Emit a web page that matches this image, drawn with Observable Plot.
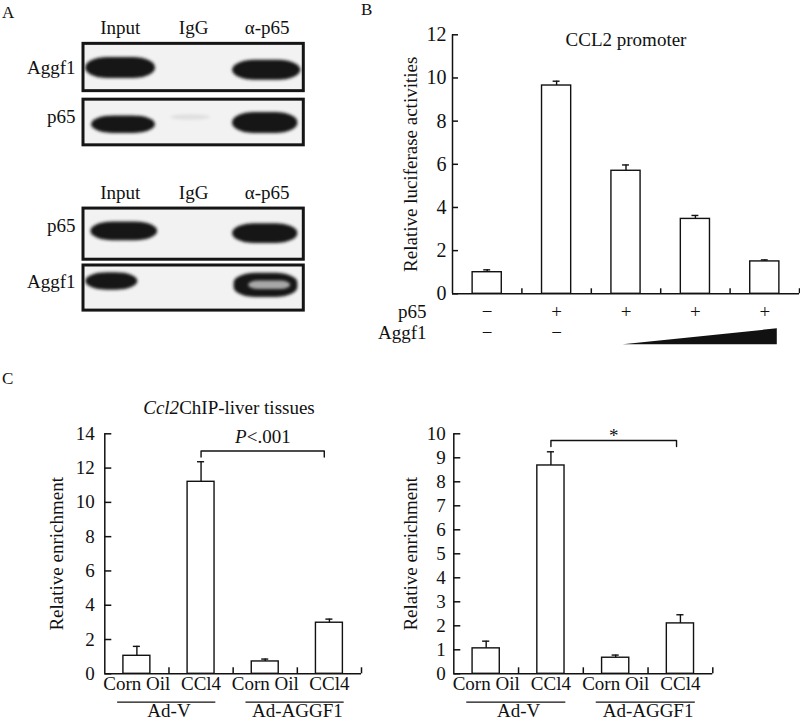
<!DOCTYPE html>
<html><head><meta charset="utf-8">
<script src="https://cdn.jsdelivr.net/npm/d3@7"></script>
<script src="https://cdn.jsdelivr.net/npm/@observablehq/plot@0.6"></script>
<style>
html,body{margin:0;padding:0;background:#fff;overflow:hidden;}
#fig{position:relative;width:800px;height:722px;font-family:'Liberation Serif','Times New Roman',serif;color:#111;background:#fff;}
.panel{position:absolute;}
.panel svg{display:block;font-family:'Liberation Serif','Times New Roman',serif !important;}
.panel svg text{font-family:'Liberation Serif','Times New Roman',serif !important;}
.plab{position:absolute;font-size:17px;line-height:1;}
.ctitle{position:absolute;font-size:19px;line-height:22px;text-align:center;white-space:nowrap;}
</style></head><body>
<div id="fig">
  <div id="pa" class="panel" style="left:0;top:0;width:320px;height:320px"></div>
  <div id="pb" class="panel" style="left:360px;top:0;width:440px;height:360px"></div>
  <div id="pc1" class="panel" style="left:0;top:360px;width:400px;height:362px"></div>
  <div id="pc2" class="panel" style="left:400px;top:360px;width:400px;height:362px"></div>
  <div class="plab" style="left:2px;top:4px">A</div>
  <div class="plab" style="left:361px;top:1px">B</div>
  <div class="plab" style="left:2px;top:370px">C</div>
  <div class="ctitle" style="left:129px;width:200px;top:397px"><i>Ccl2</i>ChIP-liver tissues</div>
</div>
<script>
// ---------------- DATA ----------------
// Panel A: co-immunoprecipitation blots
const lanes = ["Input", "IgG", "α-p65"];
const blot1Proteins = ["Aggf1", "p65"];
const blot2Proteins = ["p65", "Aggf1"];
const blot1Signal = [[1, 0, 1], [1, 0.08, 1]];
const blot2Signal = [[1, 0, 1], [1, 0, 1]];

// Panel B: CCL2 promoter luciferase
const bTitle = "CCL2 promoter";
const bYLabel = "Relative luciferase activities";
const bValues = [1.0, 9.65, 5.7, 3.47, 1.5];
const bErrors = [0.11, 0.2, 0.27, 0.16, 0.07];
const bP65 = ["−", "+", "+", "+", "+"];
const bAggf1 = ["−", "−", "", "", ""];
const bRowLabels = ["p65", "Aggf1"];
const bYTicks = [0, 2, 4, 6, 8, 10, 12];

// Panel C: ChIP liver tissues
const cYLabel = "Relative enrichment";
const cCats = ["Corn Oil", "CCl4", "Corn Oil", "CCl4"];
const cGroups = ["Ad-V", "Ad-AGGF1"];
const c1Values = [1.05, 11.2, 0.72, 2.98];
const c1Errors = [0.55, 1.17, 0.14, 0.21];
const c1Ticks = [0, 2, 4, 6, 8, 10, 12, 14];
const c1Compare = {from: 1, to: 3, italic: "P", text: "<.001"};
const c2Values = [1.06, 8.68, 0.67, 2.10];
const c2Errors = [0.30, 0.57, 0.11, 0.36];
const c2Ticks = [0, 1, 2, 3, 4, 5, 6, 7, 8, 9, 10];
const c2Compare = {from: 1, to: 3, italic: "", text: "*"};

// ---------------- STYLE ----------------
const FONT = "'Liberation Serif','Times New Roman',serif";
const INK = "#111";
const baseStyle = {fontFamily: FONT, fontSize: "19px", background: "transparent", overflow: "visible", color: INK};
const T = (o) => Object.assign({fontFamily: FONT, fontSize: 19}, o);

// ---------------- PANEL A ----------------
(function () {
  const rowStyle = [
    {h: 0.86, dy: 0.0, labelDy: 0},
    {h: 0.83, dy: 0.0, labelDy: -5.5},
    {h: 0.93, dy: 0.03, labelDy: -7},
    {h: 0.82, dy: 0.01, labelDy: -6}
  ];
  const bandShape = [
    [{l: -0.47, r: 0.48, c: 0.01, t: 0.19}, {l: -0.2, r: 0.2, c: 0, t: 0.05}, {l: -0.47, r: 0.46, c: 0.05, t: 0.18}],
    [{l: -0.39, r: 0.48, c: 0.04, t: 0.16}, {l: -0.31, r: 0.23, c: -0.09, t: 0.05}, {l: -0.47, r: 0.42, c: 0.01, t: 0.19}],
    [{l: -0.40, r: 0.51, c: -0.02, t: 0.17}, {l: -0.2, r: 0.2, c: 0, t: 0.05}, {l: -0.47, r: 0.42, c: 0.02, t: 0.18}],
    [{l: -0.47, r: 0.24, c: -0.11, t: 0.16}, {l: -0.2, r: 0.2, c: 0, t: 0.05}, {l: -0.45, r: 0.42, c: -0.04, t: 0.22, ring: true}]
  ];
  const rows = [];
  [[blot1Proteins, blot1Signal], [blot2Proteins, blot2Signal]].forEach(([prots, sig], b) =>
    prots.forEach((p, r) => rows.push({blot: b, row: r, slot: b * 3 + r, protein: p, signal: sig[r]})));
  rows.forEach((d, k) => Object.assign(d, rowStyle[k]));
  const bands = [], rings = [];
  rows.forEach((d, k) => d.signal.forEach((s, lane) => {
    if (s <= 0) return;
    const sh = bandShape[k][lane];
    const yc = d.slot + sh.c;
    bands.push({x1: lane + sh.l, x2: lane + sh.r, y1: yc - sh.t, y2: yc + sh.t, signal: s});
    if (sh.ring) rings.push({x1: lane + sh.l + 0.2, x2: lane + sh.r - 0.1, y1: yc - sh.t * 0.35, y2: yc + sh.t * 0.35});
  }));
  const headers = [];
  [0, 1].forEach(b => lanes.forEach((name, lane) => headers.push({lane, slot: b * 3, name})));

  const svg = Plot.plot({
    style: baseStyle, width: 320, height: 320,
    marginLeft: 83, marginRight: 16.7, marginTop: 39.5, marginBottom: 5.5,
    x: {domain: [-0.5, lanes.length - 0.5], axis: null},
    y: {domain: [4.5, -0.5], axis: null},
    marks: [
      Plot.rect(rows, {x1: () => -0.5, x2: () => lanes.length - 0.5, y1: d => d.slot + d.dy - d.h / 2, y2: d => d.slot + d.dy + d.h / 2,
        fill: "#f2f2f2", stroke: "#151515", strokeWidth: 3}),
      Plot.rect(bands, {x1: "x1", x2: "x2", y1: "y1", y2: "y2", fill: "#161616", fillOpacity: "signal", rx: 22, ry: 10}),
      Plot.rect(rings, {x1: "x1", x2: "x2", y1: "y1", y2: "y2", fill: "#a8a8a8", rx: 10, ry: 4}),
      Plot.text(headers, T({x: "lane", y: "slot", dy: -40, text: "name"})),
      Plot.text(rows, T({y: d => d.slot + d.labelDy / 55, frameAnchor: "left", dx: -8, textAnchor: "end", text: "protein"}))
    ]
  });
  const ns = "http://www.w3.org/2000/svg";
  const defs = document.createElementNS(ns, "defs");
  const f = document.createElementNS(ns, "filter");
  f.setAttribute("id", "blotblur");
  f.setAttribute("x", "-30%"); f.setAttribute("y", "-30%"); f.setAttribute("width", "160%"); f.setAttribute("height", "160%");
  const gb = document.createElementNS(ns, "feGaussianBlur");
  gb.setAttribute("stdDeviation", "1.8");
  f.appendChild(gb); defs.appendChild(f); svg.insertBefore(defs, svg.firstChild);
  const gs = svg.querySelectorAll('g[aria-label="rect"]');
  if (gs[1]) gs[1].setAttribute("filter", "url(#blotblur)");
  if (gs[2]) gs[2].setAttribute("filter", "url(#blotblur)");
  document.getElementById("pa").appendChild(svg);
})();

// ---------------- PANEL B ----------------
(function () {
  const W = 440, H = 360, ml = 92, mr = 1, mt = 34.3, mb = 66.7;
  const frameW = W - ml - mr, frameH = H - mt - mb;
  const ymax = bYTicks[bYTicks.length - 1];
  const pxPerUnit = frameH / ymax;
  const data = bValues.map((v, i) => ({i, v, e: bErrors[i], p65: bP65[i], aggf1: bAggf1[i]}));
  const bounds = data.map(d => d.i + 0.5);
  const ramp = [{x: 1.96, level: 0}, {x: 4.18, level: 1}];
  const rampH = 16 / pxPerUnit;
  const svg = Plot.plot({
    style: baseStyle, width: W, height: H,
    marginLeft: ml, marginRight: mr, marginTop: mt, marginBottom: mb,
    x: {domain: [-0.5, data.length - 0.5], axis: null},
    y: {domain: [0, ymax], axis: null},
    marks: [
      Plot.rect(data, {x1: d => d.i - 0.21, x2: d => d.i + 0.21, y1: () => 0, y2: "v", fill: "white", stroke: INK, strokeWidth: 1.4}),
      Plot.ruleX(data, {x: "i", y1: "v", y2: d => d.v + d.e, stroke: INK, strokeWidth: 1.4}),
      Plot.ruleY(data, {y: d => d.v + d.e, x1: d => d.i - 0.05, x2: d => d.i + 0.05, stroke: INK, strokeWidth: 1.4}),
      Plot.ruleX([-0.5], {stroke: INK, strokeWidth: 1.5}),
      Plot.ruleY([0], {stroke: INK, strokeWidth: 1.5}),
      Plot.tickY(bYTicks, {y: d => d, insetRight: frameW - 6, stroke: INK, strokeWidth: 1.5}),
      Plot.tickX(bounds, {x: d => d, insetTop: frameH - 5, stroke: INK, strokeWidth: 1.5}),
      Plot.text(bYTicks, T({y: d => d, frameAnchor: "left", dx: -6, textAnchor: "end", text: d => String(d), fontSize: 20})),
      Plot.text([bYLabel], T({frameAnchor: "left", dx: -42, rotate: -90, textAnchor: "middle", text: d => d})),
      Plot.text([bTitle], T({frameAnchor: "top", dy: -2, textAnchor: "middle", text: d => d})),
      Plot.text(data, T({x: "i", frameAnchor: "bottom", dy: 24, textAnchor: "middle", text: "p65"})),
      Plot.text(data, T({x: "i", frameAnchor: "bottom", dy: 45, textAnchor: "middle", text: "aggf1"})),
      Plot.text([bRowLabels[0]], T({frameAnchor: "bottom-left", dx: -26, dy: 24, textAnchor: "end", text: d => d})),
      Plot.text([bRowLabels[1]], T({frameAnchor: "bottom-left", dx: -26, dy: 45, textAnchor: "end", text: d => d})),
      Plot.area(ramp, {x1: "x", y1: () => 0, y2: d => d.level * rampH, dy: 51, fill: INK})
    ]
  });
  document.getElementById("pb").appendChild(svg);
})();

// ---------------- PANEL C ----------------
function panelC(el, cfg) {
  const {values, errors, ticks, cmp, W, ml, mr, tickDx, ylabelDx, bracketY, bracketEnd, labelDy} = cfg;
  const H = 362, mt = 73.3, mb = 48.7;
  const frameW = W - ml - mr, frameH = H - mt - mb;
  const ymax = ticks[ticks.length - 1];
  const pxPerUnit = frameH / ymax;
  const drop = 6 / pxPerUnit;
  const data = values.map((v, i) => ({i, v, e: errors[i], cat: cCats[i]}));
  const groups = cGroups.map((name, g) => ({name, start: g * 2, end: g * 2 + 1}));
  const bounds = data.map(d => d.i + 0.5);
  const to = cmp.to - bracketEnd;
  const bracket = [
    {x: cmp.from, y: bracketY - drop}, {x: cmp.from, y: bracketY},
    {x: to, y: bracketY}, {x: to, y: bracketY - drop}
  ];
  const mid = (cmp.from + to) / 2;
  const labelMarks = cmp.italic
    ? [
        Plot.text([cmp], T({x: () => mid, y: () => bracketY, dy: labelDy, dx: -16, textAnchor: "end", fontStyle: "italic", text: d => d.italic})),
        Plot.text([cmp], T({x: () => mid, y: () => bracketY, dy: labelDy, dx: -16, textAnchor: "start", text: d => d.text}))
      ]
    : [Plot.text([cmp], T({x: () => mid, y: () => bracketY, dy: labelDy, textAnchor: "middle", text: d => d.text}))];
  const svg = Plot.plot({
    style: baseStyle, width: W, height: H,
    marginLeft: ml, marginRight: mr, marginTop: mt, marginBottom: mb,
    x: {domain: [-0.5, data.length - 0.5], axis: null},
    y: {domain: [0, ymax], axis: null},
    marks: [
      Plot.rect(data, {x1: d => d.i - 0.21, x2: d => d.i + 0.21, y1: () => 0, y2: "v", fill: "white", stroke: INK, strokeWidth: 1.4}),
      Plot.ruleX(data, {x: "i", y1: "v", y2: d => d.v + d.e, stroke: INK, strokeWidth: 1.4}),
      Plot.ruleY(data, {y: d => d.v + d.e, x1: d => d.i - 0.055, x2: d => d.i + 0.055, stroke: INK, strokeWidth: 1.4}),
      Plot.ruleX([-0.5], {stroke: INK, strokeWidth: 1.5}),
      Plot.ruleY([0], {stroke: INK, strokeWidth: 1.5}),
      Plot.tickY(ticks, {y: d => d, insetRight: frameW - 7, stroke: INK, strokeWidth: 1.5}),
      Plot.tickX(bounds, {x: d => d, insetTop: frameH - 6, stroke: INK, strokeWidth: 1.5}),
      Plot.text(ticks, T({y: d => d, frameAnchor: "left", dx: tickDx, textAnchor: "end", text: d => String(d)})),
      Plot.text([cYLabel], T({frameAnchor: "left", dx: ylabelDx, rotate: -90, textAnchor: "middle", text: d => d})),
      Plot.text(data, T({x: "i", frameAnchor: "bottom", dy: 16, textAnchor: "middle", text: "cat"})),
      Plot.ruleY(groups, {y: () => 0, x1: d => d.start - 0.3, x2: d => d.end + 0.23, dy: 28.4, stroke: INK, strokeWidth: 1.3}),
      Plot.text(groups, T({x: d => (d.start + d.end) / 2, frameAnchor: "bottom", dy: 43, textAnchor: "middle", text: "name"})),
      Plot.line(bracket, {x: "x", y: "y", stroke: INK, strokeWidth: 1.4}),
      ...labelMarks
    ]
  });
  document.getElementById(el).appendChild(svg);
}

panelC("pc1", {values: c1Values, errors: c1Errors, ticks: c1Ticks, cmp: c1Compare,
  W: 400, ml: 104.3, mr: 39, tickDx: -10, ylabelDx: -47.6, bracketY: 13.0, bracketEnd: 0.08, labelDy: -14.4});
panelC("pc2", {values: c2Values, errors: c2Errors, ticks: c2Ticks, cmp: c2Compare,
  W: 400, ml: 53.3, mr: 87.7, tickDx: -8, ylabelDx: -43.3, bracketY: 9.72, bracketEnd: 0.06, labelDy: -4.5});
</script>
</body></html>
